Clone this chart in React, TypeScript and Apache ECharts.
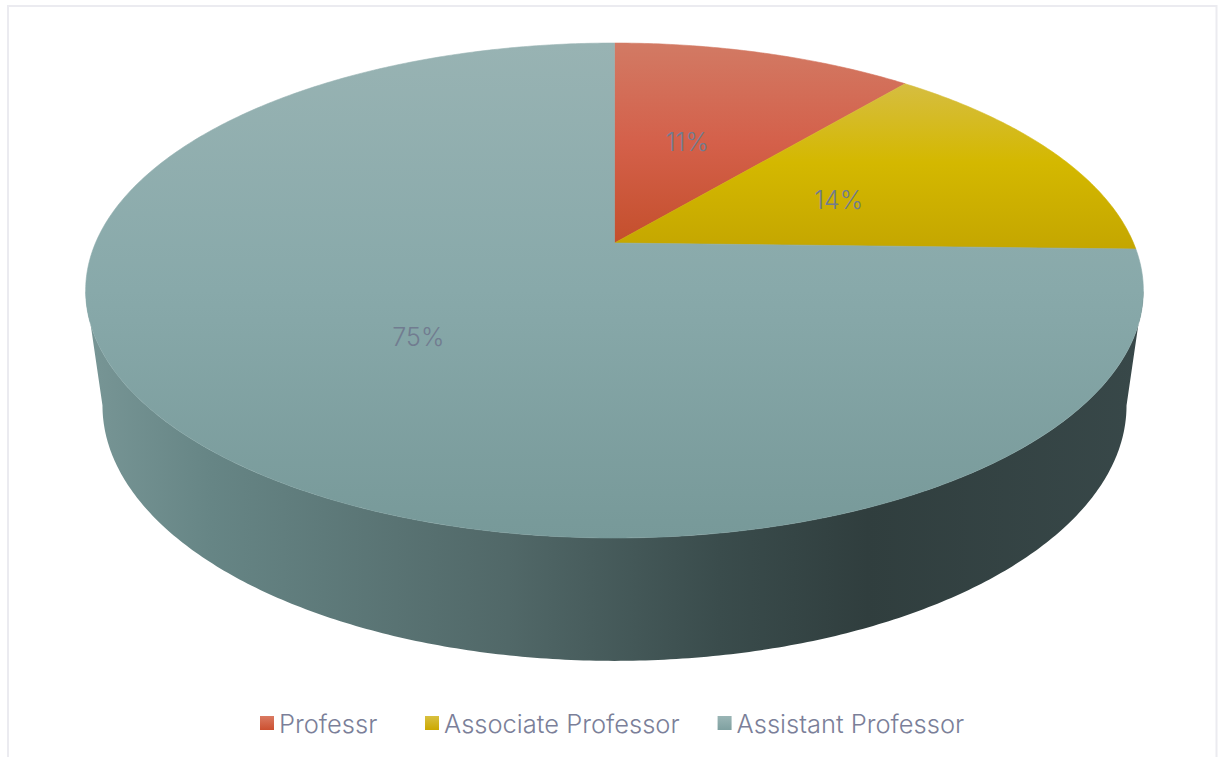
import React, { useEffect, useRef } from "react";
import * as echarts from "echarts";

const categories = ["Professr", "Associate Professor", "Assistant Professor"];
const shares = [11.1, 14.3, 74.6];
const topStops = [
  ["#d27a64", "#d4604a", "#c44f2c"],
  ["#d6be48", "#d4b800", "#c4a600"],
  ["#98b3b3", "#88a9aa", "#779999"],
];
const legendStops = [
  ["#da7a62", "#cc5030"],
  ["#d8c040", "#cca800"],
  ["#9ab5b5", "#7fa0a0"],
];
const sideStops: [number, string][] = [
  [0, "#789696"],
  [0.12, "#668585"],
  [0.4, "#516868"],
  [0.6, "#3a4c4c"],
  [0.74, "#303e3e"],
  [1, "#384849"],
];
const labelRadius = [0.49, 0.49, 0.5];
const labelShift = [[-7, 0], [1, 3], [3, 5]];
const font = "Inter, Lato, sans-serif";

const C = -0.192;
const topDisc = { cx: 614.5, k: 519, a: 191.7, b: 243 };
const baseDisc = { cx: 614.5, k: 502.5, a: 177.6, b: 356.4 };
const project = (d: typeof topDisc, u: number, v: number) => {
  const w = 1 + C * v;
  return [d.cx + (d.k * u) / w, (d.a * v + d.b) / w];
};

const total = shares.reduce((s, x) => s + x, 0);
const arcPoints = (d: typeof topDisc, from: number, to: number) => {
  const out: number[][] = [];
  const n = Math.max(2, Math.ceil(Math.abs(to - from) / 0.01));
  for (let i = 0; i <= n; i++) {
    const t = from + ((to - from) * i) / n;
    out.push(project(d, Math.sin(t), -Math.cos(t)));
  }
  return out;
};
const vGradSlice = (c: string[], y0: number, y1: number) => ({
  type: "linear",
  global: true,
  x: 0,
  y: y0,
  x2: 0,
  y2: y1,
  colorStops: c.map((color, i) => ({ offset: i / (c.length - 1), color })),
});

function buildOption() {
  const tangent = Math.PI / 2 + Math.asin(-C);
  const sideSeries = {
    type: "custom",
    coordinateSystem: "none",
    silent: true,
    data: [[1]],
    z: 1,
    renderItem: () => ({
      type: "polygon",
      shape: {
        points: [
          ...arcPoints(topDisc, tangent, 2 * Math.PI - tangent),
          ...arcPoints(baseDisc, 2 * Math.PI - tangent, tangent),
        ],
      },
      style: {
        fill: {
          type: "linear",
          global: true,
          x: 85,
          y: 0,
          x2: 1143,
          y2: 0,
          colorStops: sideStops.map(([offset, color]) => ({ offset, color })),
        },
      },
    }),
  };
  let acc = 0;
  const sliceSeries = categories.map((name, i) => {
    const start = (acc / total) * 2 * Math.PI;
    acc += shares[i];
    const end = (acc / total) * 2 * Math.PI;
    const mid = (start + end) / 2;
    const r = labelRadius[i];
    const labelPos = project(topDisc, r * Math.sin(mid), -r * Math.cos(mid));
    const range: [number, number] = i === 2 ? [43, 538] : i === 1 ? [75, 250] : [43, 243];
    const fill = vGradSlice(topStops[i], range[0], range[1]);
    return {
      type: "custom",
      name,
      coordinateSystem: "none",
      silent: true,
      z: 2,
      data: [[shares[i]]],
      itemStyle: { color: topStops[i][1] },
      renderItem: (_p: any, api: any) => {
        const pct = Math.round((api.value(0) / total) * 100);
        return {
          type: "group",
          children: [
            {
              type: "polygon",
              shape: { points: [project(topDisc, 0, 0), ...arcPoints(topDisc, start, end)] },
              style: { fill, stroke: fill, lineWidth: 0.6 },
            },
            {
              type: "text",
              z2: 10,
              style: {
                text: pct + "%",
                x: labelPos[0] + labelShift[i][0],
                y: labelPos[1] + labelShift[i][1],
                align: "center",
                verticalAlign: "middle",
                fill: "#717c90",
                font: `300 25px ${font}`,
              },
            },
          ],
        };
      },
    };
  });
  const legendData = categories.map((name, i) => ({
    name,
    itemStyle: {
      color: {
        type: "linear",
        x: 0,
        y: 0,
        x2: 0,
        y2: 1,
        colorStops: [
          { offset: 0, color: legendStops[i][0] },
          { offset: 1, color: legendStops[i][1] },
        ],
      },
    },
  }));
  const legendBase = {
    top: 705,
    icon: "rect",
    itemWidth: 14,
    itemHeight: 14,
    itemGap: 38,
    selectedMode: false,
    textStyle: { color: "#7b7f99", fontFamily: font, fontSize: 25.5, fontWeight: 300 },
  };
  return {
    animation: false,
    backgroundColor: "#ffffff",
    legend: [
      { ...legendBase, left: 255, data: legendData.slice(0, 1) },
      { ...legendBase, left: 420, data: legendData.slice(1) },
    ],
    graphic: [
      {
        type: "rect",
        silent: true,
        z: 0,
        shape: { x: 8, y: 6, width: 1208.5, height: 780 },
        style: { fill: "none", stroke: "#ebebf0", lineWidth: 2 },
      },
    ],
    series: [sideSeries, ...sliceSeries],
  };
}

export default function App() {
  const ref = useRef<HTMLDivElement>(null);
  useEffect(() => {
    if (!ref.current) return;
    const chart = echarts.init(ref.current, undefined, { renderer: "svg" });
    chart.setOption(buildOption() as any);
    return () => chart.dispose();
  }, []);
  return <div ref={ref} style={{ position: "fixed", left: 0, top: 0, width: 1218, height: 757 }} />;
}
